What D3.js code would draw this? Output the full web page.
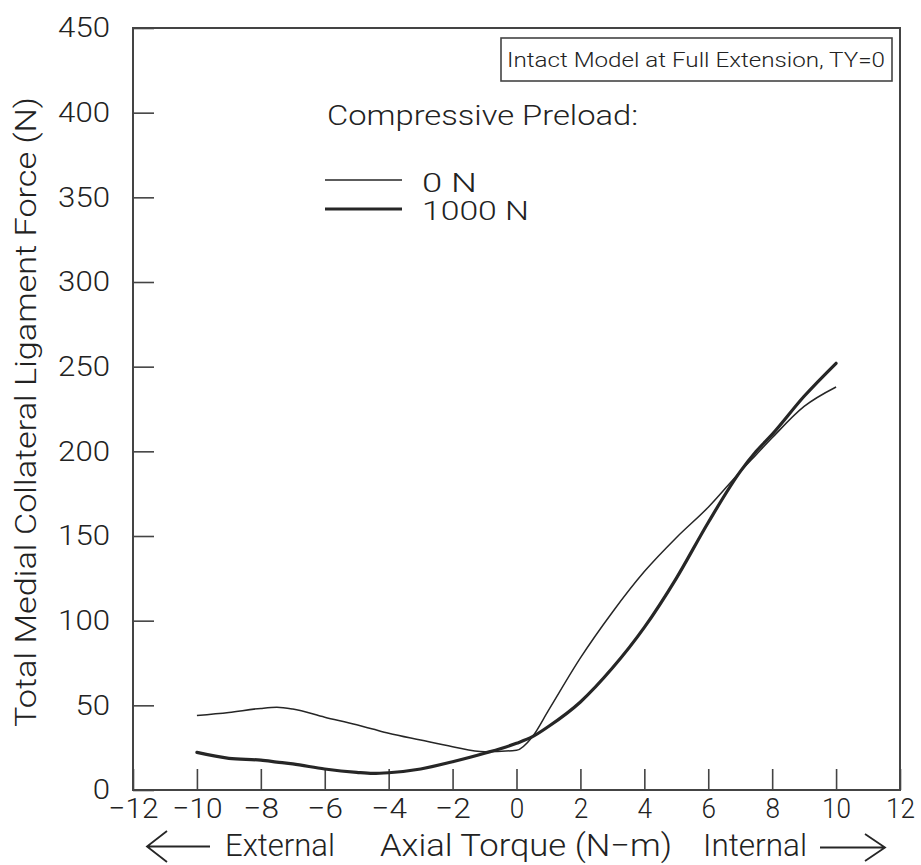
<!DOCTYPE html>
<html>
<head>
<meta charset="utf-8">
<script src="https://cdn.jsdelivr.net/npm/d3@7"></script>
<style>
  html, body { margin: 0; padding: 0; background: #fff; }
  svg { display: block; }
  text { font-family: "Roboto", "Liberation Sans", sans-serif; font-weight: 300; fill: #222; }
</style>
</head>
<body>
<svg id="chart" width="921" height="865"></svg>
<script>
// Axial torque (N-m) at which the ligament force was evaluated
const torque = [-10, -9, -8, -7.5, -7, -6, -5, -4.5, -4, -3, -2, -1, 0, 0.5, 1, 2, 3, 4, 5, 6, 7, 7.5, 8, 9, 10];

// Total MCL force (N), no compressive preload
const force0N = [44, 45.8, 48.2, 48.8, 47.8, 43, 38.5, 36, 33.5, 29.5, 25.6, 22.6, 23.5, 31.5, 47, 78, 105, 129, 149, 167, 188, 198, 208, 226.5, 238];

// Total MCL force (N), 1000 N compressive preload
const force1000N = [22.2, 18.7, 17.6, 16.5, 15.4, 12.4, 10.4, 9.8, 10.2, 12.4, 16.7, 21.7, 27.6, 31.5, 37.5, 52, 72, 96, 125, 158, 188, 200, 210, 232.5, 252];

const xTicks = [-12, -10, -8, -6, -4, -2, 0, 2, 4, 6, 8, 10, 12];
const yTicks = [0, 50, 100, 150, 200, 250, 300, 350, 400, 450];

const seriesNames = ["0  N", "1000  N"];
const legendTitle = "Compressive  Preload:";
const boxLabel = "Intact  Model  at  Full  Extension,  TY=0";

const svg = d3.select("#chart");

const x = d3.scaleLinear().domain([-12, 12]).range([133, 900]);
const y = d3.scaleLinear().domain([0, 450]).range([790, 28]);

const ink = "#262626";
const fontStack = '"Roboto", "Liberation Sans", sans-serif';

// plot frame
svg.append("rect")
  .attr("x", x(-12)).attr("y", y(450))
  .attr("width", x(12) - x(-12)).attr("height", y(0) - y(450))
  .attr("fill", "none").attr("stroke", "#444").attr("stroke-width", 2);

// y axis: inward ticks
const yAxis = svg.append("g")
  .attr("transform", `translate(${x(-12)},0)`)
  .call(d3.axisLeft(y).tickValues(yTicks).tickSize(-21).tickPadding(23).tickFormat(d3.format("d")));
yAxis.select(".domain").remove();
yAxis.selectAll("line").attr("stroke", "#444").attr("stroke-width", 1.6);
yAxis.selectAll("text")
  .attr("font-size", 28)
  .attr("fill", ink)
  .attr("font-family", null)
  .attr("textLength", d => String(d).length * 17.3)
  .attr("lengthAdjust", "spacingAndGlyphs");

// x axis: inward ticks
const xAxis = svg.append("g")
  .attr("transform", `translate(0,${y(0)})`)
  .call(d3.axisBottom(x).tickValues(xTicks).tickSize(-21).tickPadding(8));
xAxis.select(".domain").remove();
xAxis.selectAll("line").attr("stroke", "#444").attr("stroke-width", 1.6);
xAxis.selectAll("text")
  .attr("font-size", 28)
  .attr("fill", ink)
  .attr("font-family", null)
  .attr("textLength", d => (d < 0 ? 21 : 0) + String(Math.abs(d)).length * 14.5)
  .attr("lengthAdjust", "spacingAndGlyphs");
svg.selectAll(".tick text").style("font-family", fontStack).style("font-weight", 300);

// curves
const line = d3.line()
  .x(d => x(d[0]))
  .y(d => y(d[1]))
  .curve(d3.curveMonotoneX);

svg.append("path")
  .datum(torque.map((t, i) => [t, force0N[i]]))
  .attr("d", line)
  .attr("fill", "none").attr("stroke", ink).attr("stroke-width", 1.5);

svg.append("path")
  .datum(torque.map((t, i) => [t, force1000N[i]]))
  .attr("d", line)
  .attr("fill", "none").attr("stroke", ink).attr("stroke-width", 3.2)
  .attr("stroke-linecap", "round");

// condition box
svg.append("rect")
  .attr("x", 501).attr("y", 38).attr("width", 391).attr("height", 43)
  .attr("fill", "#fff").attr("stroke", "#444").attr("stroke-width", 1.6);
svg.append("text")
  .attr("x", 507).attr("y", 67)
  .attr("font-size", 21)
  .attr("textLength", 378).attr("lengthAdjust", "spacingAndGlyphs")
  .text(boxLabel);

// legend
svg.append("text")
  .attr("x", 327).attr("y", 125)
  .attr("font-size", 28)
  .attr("textLength", 311).attr("lengthAdjust", "spacingAndGlyphs")
  .text(legendTitle);

const legendRows = [
  { name: seriesNames[0], width: 1.5, ly: 180, ty: 192, tl: 55 },
  { name: seriesNames[1], width: 3.2, ly: 209, ty: 220, tl: 107 }
];
legendRows.forEach(r => {
  svg.append("line")
    .attr("x1", 325).attr("x2", 402).attr("y1", r.ly).attr("y2", r.ly)
    .attr("stroke", ink).attr("stroke-width", r.width);
  svg.append("text")
    .attr("x", 422).attr("y", r.ty)
    .attr("font-size", 26)
    .attr("textLength", r.tl).attr("lengthAdjust", "spacingAndGlyphs")
    .text(r.name);
});

// y axis title
svg.append("text")
  .attr("transform", "translate(36,412) rotate(-90)")
  .attr("text-anchor", "middle")
  .attr("font-size", 29)
  .attr("textLength", 630).attr("lengthAdjust", "spacingAndGlyphs")
  .text("Total  Medial  Collateral  Ligament  Force  (N)");

// x axis title with direction arrows
const arrow = svg.append("g").attr("fill", "none").attr("stroke", ink).attr("stroke-width", 1.8);
arrow.append("path").attr("d", "M167,831 L147,846.5 L167,862 M147,846.5 L210,846.5");
arrow.append("path").attr("d", "M865,834 L885,847.5 L865,861 M820,847.5 L885,847.5");

[
  { s: "External", x0: 225, w: 110 },
  { s: "Axial  Torque  (N\u2212m)", x0: 380, w: 292 },
  { s: "Internal", x0: 703, w: 104 }
].forEach(t => {
  svg.append("text")
    .attr("x", t.x0).attr("y", 856)
    .attr("font-size", 31)
    .attr("textLength", t.w).attr("lengthAdjust", "spacingAndGlyphs")
    .text(t.s);
});
</script>
</body>
</html>
